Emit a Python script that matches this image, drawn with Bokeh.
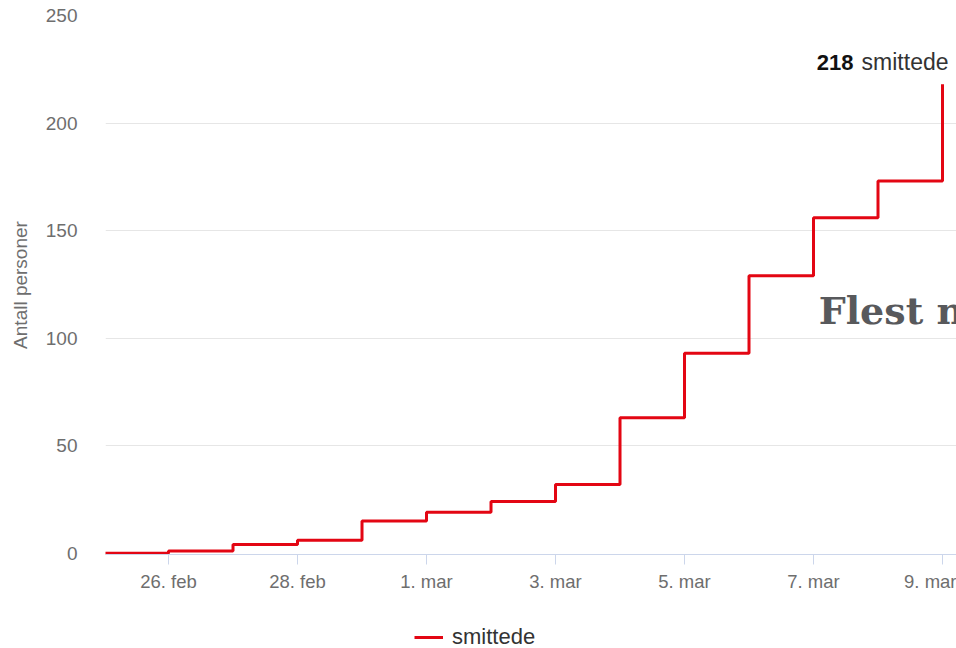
import pandas as pd
from bokeh.plotting import figure
from bokeh.layouts import column
from bokeh.models import Range1d, FixedTicker, Legend, LegendItem, Label
from bokeh.core.properties import value
from bokeh.embed import file_html
from bokeh.resources import INLINE

# ---- data ----
dates = ["2020-02-25", "2020-02-26", "2020-02-27", "2020-02-28", "2020-02-29",
         "2020-03-01", "2020-03-02", "2020-03-03", "2020-03-04", "2020-03-05",
         "2020-03-06", "2020-03-07", "2020-03-08", "2020-03-09"]
smittede = [0, 1, 4, 6, 15, 19, 24, 32, 63, 93, 129, 156, 173, 218]
tick_dates = ["2020-02-26", "2020-02-28", "2020-03-01", "2020-03-03",
              "2020-03-05", "2020-03-07", "2020-03-09"]
tick_labels = ["26. feb", "28. feb", "1. mar", "3. mar", "5. mar", "7. mar", "9. mar"]
y_ticks = [0, 50, 100, 150, 200, 250]
series_name = "smittede"
y_title = "Antall personer"
overlay_heading = "Flest n"

DAY = 86400000
x = pd.to_datetime(dates)
to_ms = lambda s: int(pd.Timestamp(s).value // 10**6)
tick_ms = [to_ms(d) for d in tick_dates]

FONT = "Liberation Sans"
RED = "#e30613"
GRAY = "#6e6e6e"
LINE_W = 3

p = figure(width=956, height=600, x_axis_type="datetime",
           output_backend="svg", toolbar_location=None,
           x_range=Range1d(to_ms(dates[0]) + 0.023 * DAY, to_ms(dates[-1]) + 0.217 * DAY),
           y_range=Range1d(-0.6, 250),
           min_border_left=105, min_border_right=0, min_border_top=15, min_border_bottom=46)
p.outline_line_color = None
p.background_fill_color = "white"
p.border_fill_color = "white"

# grid
p.xgrid.grid_line_color = None
p.ygrid.grid_line_color = "#e6e6e6"
p.ygrid.ticker = FixedTicker(ticks=y_ticks[1:])

line = p.step(x, smittede, mode="after", line_color=RED, line_width=LINE_W)

# x axis
xa = p.xaxis[0]
xa.ticker = FixedTicker(ticks=tick_ms)
xa.major_label_overrides = dict(zip(tick_ms, tick_labels))
xa.axis_line_color = "#ccd6eb"
xa.major_tick_line_color = "#ccd6eb"
xa.major_tick_out = 10
xa.major_tick_in = 0
xa.minor_tick_line_color = None
xa.major_label_standoff = 6
xa.major_label_text_font = FONT
xa.major_label_text_font_size = "18.5px"
xa.major_label_text_color = GRAY

# y axis
ya = p.yaxis[0]
ya.ticker = FixedTicker(ticks=y_ticks)
ya.axis_line_color = None
ya.major_tick_line_color = None
ya.minor_tick_line_color = None
ya.major_label_standoff = 22
ya.major_label_text_font = FONT
ya.major_label_text_font_size = "19px"
ya.major_label_text_color = GRAY
ya.axis_label = y_title
ya.axis_label_text_font = FONT
ya.axis_label_text_font_size = "19px"
ya.axis_label_text_font_style = "normal"
ya.axis_label_text_color = GRAY
ya.axis_label_standoff = 12

# end label "218 smittede"
p.text(x=[x[-1]], y=[smittede[-1]], text=[series_name], text_align="right",
       text_baseline="middle", x_offset=6, y_offset=-22,
       text_font=value(FONT), text_font_size="23px", text_color="#333333")
p.text(x=[x[-1]], y=[smittede[-1]], text=[str(smittede[-1])], text_align="right",
       text_baseline="middle", x_offset=-89, y_offset=-22,
       text_font=value(FONT), text_font_size="22px", text_font_style="bold",
       text_color="#111111")

# overlapping page heading
p.add_layout(Label(x=to_ms("2020-03-07") + 0.08 * DAY, y=113, text=overlay_heading,
                   text_font="DejaVu Serif", text_font_size="38px", text_font_style="bold",
                   text_color="#58595c", text_baseline="middle"))

# ---- legend strip below the chart (frame aligned with the chart's frame) ----
leg = figure(width=956, height=48, output_backend="svg", toolbar_location=None,
             x_axis_location=None, y_axis_location=None,
             x_range=Range1d(0, 1), y_range=Range1d(0, 1),
             min_border_left=105, min_border_right=0, min_border_top=0, min_border_bottom=0)
leg.outline_line_color = None
leg.grid.visible = False
leg.background_fill_color = "white"
# same series, drawn far outside this strip's view: only its legend entry shows
leg_line = leg.line(x, smittede, line_color=RED, line_width=LINE_W)
legend = Legend(items=[LegendItem(label=series_name, renderers=[leg_line])],
                location=(309, -2), orientation="horizontal",
                glyph_width=29, label_standoff=9, padding=0, spacing=0, margin=0,
                border_line_color=None, background_fill_alpha=0,
                label_text_font=FONT, label_text_font_size="22px",
                label_text_color="#333333")
leg.add_layout(legend, "center")

layout = column(p, leg, spacing=0)
open("out.html", "w").write(file_html(layout, INLINE))
